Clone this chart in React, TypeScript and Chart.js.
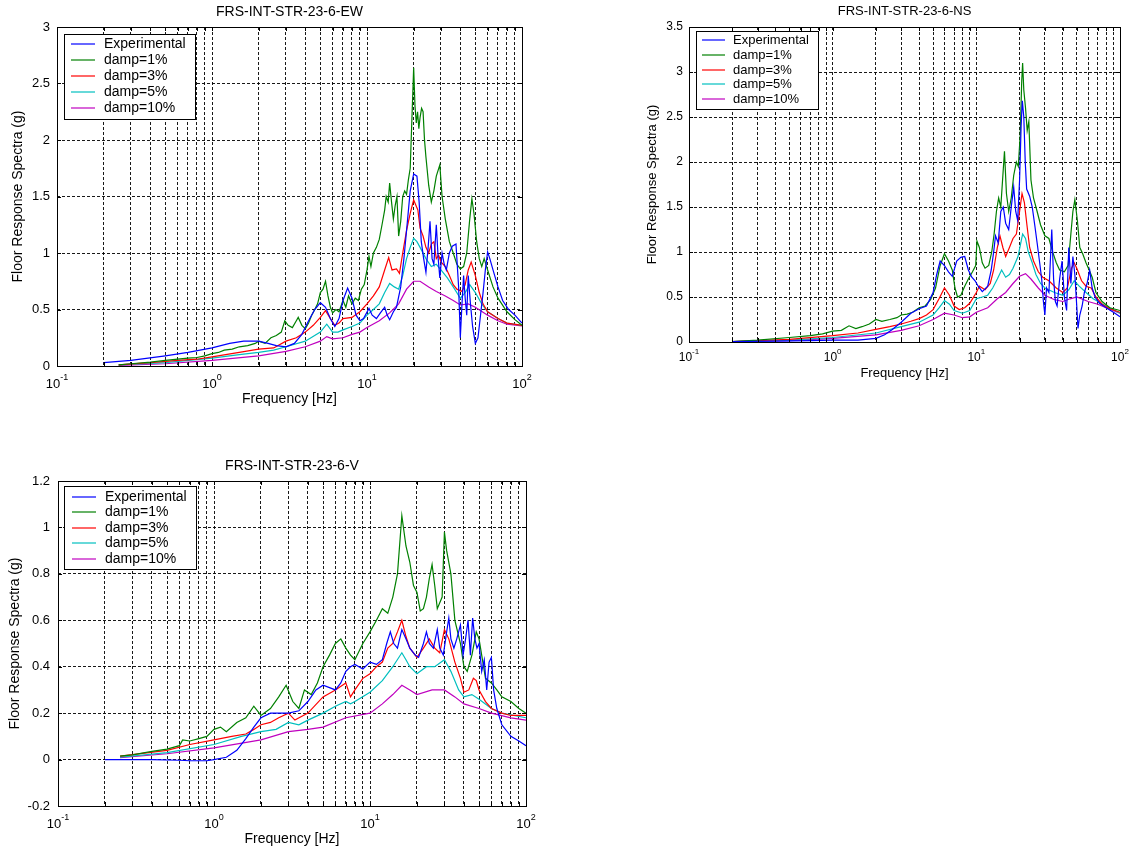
import React, { useEffect, useRef } from 'react';
import { Chart, registerables } from 'chart.js';
Chart.register(...registerables);

type Pt = [number, number];

const seriesLabels = ['Experimental', 'damp=1%', 'damp=3%', 'damp=5%', 'damp=10%'];
const seriesColors = ['#0000ff', '#008000', '#ff0000', '#00bfbf', '#bf00bf'];
const xGridTicks = [0.1, 0.2, 0.3, 0.4, 0.5, 0.6, 0.7, 0.8, 0.9, 1, 2, 3, 4, 5, 6, 7, 8, 9, 10, 20, 30, 40, 50, 60, 70, 80, 90, 100];
const xMajorTicks = [0.1, 1, 10, 100];
const xMajorExponents = ['-1', '0', '1', '2'];

// ---------- FRS-INT-STR-23-6-EW ----------
const ewExperimental: Pt[] = [[0.2,0.03],[0.3,0.05],[0.5,0.09],[0.7,0.12],[1.0,0.16],[1.3,0.2],[1.6,0.22],[2.0,0.22],[2.3,0.2],[2.6,0.18],[3.0,0.17],[3.4,0.2],[3.8,0.28],[4.2,0.4],[4.6,0.5],[5.0,0.56],[5.4,0.52],[5.8,0.42],[6.2,0.35],[6.6,0.42],[7.0,0.58],[7.5,0.69],[8.0,0.6],[8.5,0.45],[9.0,0.4],[9.5,0.42],[10.3,0.51],[10.8,0.45],[11.5,0.42],[12.2,0.47],[13.0,0.52],[13.5,0.45],[14.0,0.41],[14.8,0.48],[15.5,0.52],[16.5,0.7],[17.3,0.95],[18.0,1.2],[19.0,1.55],[20.0,1.7],[21.0,1.68],[21.7,1.45],[22.4,1.1],[23.2,0.95],[24.0,0.83],[24.8,1.05],[25.5,1.28],[26.3,0.95],[27.0,0.9],[28.0,1.25],[28.8,0.95],[29.5,0.78],[30.5,1.0],[31.5,0.9],[32.5,0.85],[34.0,1.0],[35.5,1.06],[37.5,1.08],[39.0,0.7],[40.0,0.25],[41.0,0.55],[42.0,0.8],[43.0,0.6],[44.0,0.45],[45.0,0.8],[46.5,0.55],[48.0,0.35],[50.0,0.2],[52.0,0.25],[54.0,0.45],[56.0,0.64],[58.0,0.85],[60.0,1.01],[62.0,0.95],[65.0,0.85],[70.0,0.7],[75.0,0.58],[82.0,0.5],[90.0,0.45],[100.0,0.38]];
const ewDamp1: Pt[] = [[0.25,0.01],[0.3,0.02],[0.4,0.035],[0.5,0.05],[0.6,0.06],[0.7,0.07],[0.8,0.075],[0.9,0.09],[1.0,0.11],[1.1,0.12],[1.2,0.14],[1.35,0.15],[1.5,0.17],[1.7,0.18],[1.9,0.2],[2.0,0.22],[2.2,0.2],[2.4,0.25],[2.6,0.27],[2.8,0.3],[2.95,0.4],[3.1,0.36],[3.3,0.34],[3.5,0.4],[3.6,0.43],[3.8,0.36],[4.0,0.33],[4.2,0.38],[4.4,0.45],[4.6,0.5],[4.8,0.55],[5.0,0.65],[5.2,0.68],[5.4,0.75],[5.6,0.62],[5.8,0.52],[6.0,0.47],[6.3,0.5],[6.6,0.48],[7.0,0.58],[7.3,0.52],[7.6,0.62],[8.0,0.55],[8.4,0.6],[8.8,0.58],[9.2,0.68],[9.6,0.72],[10.0,0.85],[10.3,0.97],[10.6,0.88],[11.0,1.0],[11.5,1.05],[12.0,1.12],[12.5,1.25],[13.0,1.38],[13.3,1.5],[13.7,1.45],[14.0,1.62],[14.4,1.45],[14.8,1.3],[15.2,1.42],[15.6,1.5],[16.0,1.15],[16.5,1.28],[17.0,1.5],[17.5,1.55],[18.0,1.52],[18.5,1.65],[19.0,1.75],[19.5,2.2],[20.0,2.64],[20.4,2.3],[20.8,2.15],[21.2,2.25],[21.6,2.1],[22.0,2.2],[22.5,2.28],[23.0,2.25],[23.5,2.0],[24.0,1.85],[25.0,1.6],[26.0,1.45],[27.0,1.55],[28.0,1.68],[29.5,1.78],[30.5,1.5],[32.0,1.3],[34.0,1.1],[36.0,1.0],[38.0,0.9],[40.0,0.86],[42.0,0.88],[44.0,1.0],[46.0,1.3],[47.5,1.48],[49.0,1.35],[51.0,1.1],[53.0,0.95],[55.0,0.88],[57.0,0.95],[60.0,0.85],[65.0,0.7],[70.0,0.6],[80.0,0.48],[90.0,0.41],[100.0,0.36]];
const ewDamp3: Pt[] = [[0.25,0.01],[0.4,0.03],[0.6,0.05],[0.8,0.06],[1.0,0.08],[1.5,0.12],[2.0,0.15],[2.5,0.16],[3.0,0.22],[3.5,0.25],[4.0,0.3],[4.5,0.36],[5.0,0.43],[5.4,0.49],[5.8,0.42],[6.2,0.36],[6.6,0.38],[7.0,0.42],[8.0,0.43],[9.0,0.48],[10.0,0.55],[11.0,0.62],[12.0,0.7],[13.0,0.85],[13.8,0.96],[14.5,0.85],[15.5,0.86],[16.2,0.82],[17.0,1.0],[18.0,1.2],[19.0,1.35],[20.0,1.47],[20.7,1.42],[21.3,1.38],[22.0,1.22],[23.0,1.15],[24.0,1.05],[25.0,1.0],[26.0,1.08],[27.0,1.1],[28.0,0.95],[29.0,0.98],[30.0,0.92],[32.0,0.88],[34.0,0.8],[36.0,0.72],[38.0,0.68],[41.0,0.66],[43.0,0.72],[45.0,0.85],[47.0,0.92],[50.0,0.8],[53.0,0.65],[56.0,0.55],[60.0,0.48],[70.0,0.42],[80.0,0.38],[100.0,0.36]];
const ewDamp5: Pt[] = [[0.25,0.01],[0.5,0.03],[1.0,0.07],[1.5,0.1],[2.0,0.12],[2.5,0.14],[3.0,0.17],[4.0,0.22],[5.0,0.3],[5.5,0.37],[6.0,0.3],[6.5,0.3],[7.0,0.32],[8.0,0.35],[9.0,0.38],[10.0,0.45],[11.0,0.5],[12.0,0.55],[13.0,0.65],[14.0,0.73],[15.0,0.7],[16.0,0.68],[17.0,0.8],[18.0,0.95],[19.0,1.05],[20.0,1.13],[21.0,1.1],[22.0,1.05],[24.0,0.95],[26.0,0.88],[28.0,0.9],[30.0,0.85],[33.0,0.78],[36.0,0.7],[40.0,0.6],[43.0,0.65],[46.0,0.72],[50.0,0.65],[55.0,0.55],[60.0,0.48],[70.0,0.42],[80.0,0.38],[100.0,0.36]];
const ewDamp10: Pt[] = [[0.25,0.005],[0.5,0.02],[1.0,0.05],[2.0,0.09],[3.0,0.13],[4.0,0.17],[5.0,0.22],[5.5,0.26],[6.0,0.24],[7.0,0.25],[8.0,0.28],[9.0,0.3],[10.0,0.34],[12.0,0.4],[14.0,0.47],[16.0,0.55],[18.0,0.68],[20.0,0.75],[22.0,0.75],[25.0,0.7],[28.0,0.66],[32.0,0.62],[36.0,0.58],[40.0,0.54],[45.0,0.55],[50.0,0.52],[60.0,0.45],[70.0,0.4],[80.0,0.37],[100.0,0.355]];

// ---------- FRS-INT-STR-23-6-NS ----------
const nsExperimental: Pt[] = [[0.2,0.005],[0.4,0.01],[0.7,0.015],[1.0,0.02],[1.5,0.02],[2.0,0.04],[2.3,0.08],[2.6,0.14],[3.0,0.22],[3.5,0.32],[4.0,0.37],[4.5,0.4],[5.0,0.55],[5.3,0.75],[5.6,0.9],[6.0,0.85],[6.4,0.78],[6.8,0.73],[7.3,0.9],[7.8,0.94],[8.3,0.95],[8.8,0.8],[9.3,0.72],[9.8,0.68],[10.3,0.62],[11.0,0.56],[12.0,0.62],[12.7,0.8],[13.2,1.0],[13.6,1.18],[14.2,1.1],[14.8,1.45],[15.4,1.5],[16.0,1.32],[16.8,1.25],[17.5,1.5],[18.2,1.72],[18.8,1.45],[19.4,1.35],[20.0,1.8],[20.5,2.4],[20.9,2.68],[21.4,2.5],[21.9,2.0],[22.4,1.7],[23.5,1.62],[24.5,1.5],[25.5,1.3],[26.5,1.1],[27.5,0.9],[28.5,0.7],[29.3,0.45],[30.0,0.3],[30.8,0.6],[32.0,0.55],[33.5,1.25],[34.5,0.7],[35.5,0.45],[36.5,0.4],[38.0,0.7],[39.5,0.9],[41.0,0.5],[42.5,0.35],[44.0,1.05],[45.5,0.65],[47.0,0.95],[48.5,0.75],[50.0,0.4],[51.0,0.15],[52.5,0.3],[54.5,0.4],[56.5,0.55],[59.0,0.65],[61.5,0.8],[64.0,0.6],[67.0,0.5],[72.0,0.43],[80.0,0.38],[90.0,0.33],[100.0,0.28]];
const nsDamp1: Pt[] = [[0.2,0.005],[0.3,0.02],[0.5,0.05],[0.7,0.07],[0.85,0.09],[1.0,0.12],[1.15,0.13],[1.3,0.18],[1.45,0.15],[1.6,0.17],[1.8,0.2],[2.0,0.25],[2.2,0.23],[2.5,0.25],[2.8,0.27],[3.0,0.3],[3.3,0.31],[3.6,0.33],[4.0,0.38],[4.4,0.4],[4.8,0.47],[5.2,0.6],[5.6,0.85],[6.0,0.98],[6.4,0.9],[6.8,0.8],[7.1,0.6],[7.4,0.5],[7.8,0.52],[8.3,0.62],[8.8,0.7],[9.4,0.78],[9.9,0.85],[10.1,1.12],[10.5,1.05],[11.0,0.88],[11.5,0.82],[12.2,0.85],[12.8,1.0],[13.3,1.2],[13.8,1.45],[14.3,1.6],[14.8,1.5],[15.3,1.85],[15.7,2.12],[16.2,1.65],[16.8,1.45],[17.5,1.6],[18.2,1.85],[19.0,2.0],[19.6,1.95],[20.2,2.3],[20.7,2.9],[21.0,3.1],[21.4,2.8],[22.0,2.6],[22.6,2.35],[23.2,2.45],[24.0,1.8],[25.0,1.6],[26.5,1.45],[28.0,1.3],[30.0,1.18],[32.0,1.15],[34.0,1.0],[36.0,0.88],[38.0,0.8],[41.0,0.78],[43.5,0.85],[45.5,1.2],[47.0,1.45],[48.5,1.58],[50.5,1.35],[52.5,1.05],[55.0,0.98],[58.0,0.88],[61.0,0.8],[64.0,0.72],[68.0,0.55],[75.0,0.45],[85.0,0.38],[100.0,0.35]];
const nsDamp3: Pt[] = [[0.2,0.005],[0.5,0.03],[1.0,0.07],[1.5,0.1],[2.0,0.14],[2.5,0.17],[3.0,0.2],[3.5,0.23],[4.0,0.26],[4.5,0.3],[5.0,0.36],[5.5,0.48],[6.0,0.6],[6.5,0.52],[7.0,0.4],[7.6,0.36],[8.3,0.38],[9.0,0.43],[10.0,0.55],[10.5,0.62],[11.5,0.58],[12.5,0.65],[13.2,0.8],[14.0,1.05],[14.6,1.18],[15.3,1.05],[16.0,0.95],[17.0,1.05],[18.0,1.15],[19.0,1.2],[20.0,1.45],[20.8,1.65],[21.6,1.55],[22.5,1.3],[23.5,1.05],[25.0,0.9],[27.0,0.78],[29.0,0.72],[32.0,0.68],[36.0,0.6],[40.0,0.55],[43.0,0.6],[46.0,0.82],[48.0,0.88],[50.0,0.82],[54.0,0.68],[58.0,0.62],[63.0,0.6],[68.0,0.5],[75.0,0.42],[85.0,0.37],[100.0,0.33]];
const nsDamp5: Pt[] = [[0.2,0.005],[0.5,0.02],[1.0,0.05],[2.0,0.1],[3.0,0.17],[4.0,0.22],[5.0,0.3],[5.5,0.38],[6.0,0.46],[6.5,0.42],[7.0,0.35],[8.0,0.32],[9.0,0.35],[10.0,0.48],[11.0,0.5],[12.0,0.52],[13.0,0.6],[14.0,0.7],[15.0,0.8],[16.0,0.72],[17.0,0.75],[18.0,0.82],[19.5,0.95],[21.0,1.2],[22.0,1.15],[23.0,1.0],[24.5,0.88],[26.0,0.75],[28.0,0.65],[30.0,0.6],[35.0,0.55],[40.0,0.52],[44.0,0.58],[48.0,0.68],[52.0,0.62],[58.0,0.55],[65.0,0.48],[80.0,0.4],[100.0,0.32]];
const nsDamp10: Pt[] = [[0.2,0.005],[0.5,0.015],[1.0,0.04],[2.0,0.08],[3.0,0.13],[4.0,0.18],[5.0,0.25],[6.0,0.32],[7.0,0.3],[8.0,0.27],[9.0,0.28],[10.0,0.33],[12.0,0.38],[14.0,0.48],[16.0,0.55],[18.0,0.65],[20.0,0.73],[22.0,0.76],[24.0,0.7],[27.0,0.6],[30.0,0.52],[35.0,0.47],[40.0,0.45],[45.0,0.48],[50.0,0.5],[60.0,0.45],[70.0,0.42],[80.0,0.38],[100.0,0.32]];

// ---------- FRS-INT-STR-23-6-V ----------
const vExperimental: Pt[] = [[0.2,0.0],[0.4,0.0],[0.6,-0.003],[0.7,-0.005],[0.9,-0.005],[1.0,0.0],[1.2,0.01],[1.4,0.04],[1.6,0.09],[1.8,0.14],[2.0,0.18],[2.3,0.2],[2.7,0.2],[3.0,0.2],[3.5,0.21],[4.0,0.25],[4.5,0.3],[5.0,0.32],[5.5,0.31],[6.0,0.3],[6.5,0.33],[7.0,0.38],[7.5,0.4],[8.0,0.41],[9.0,0.39],[10.0,0.42],[11.0,0.41],[12.0,0.43],[12.8,0.5],[13.5,0.55],[14.2,0.5],[15.0,0.48],[16.0,0.56],[17.0,0.52],[18.0,0.48],[19.5,0.45],[20.5,0.44],[22.0,0.5],[23.0,0.55],[24.0,0.5],[25.5,0.48],[27.0,0.56],[28.0,0.48],[29.5,0.45],[31.0,0.55],[32.0,0.61],[33.0,0.52],[34.5,0.48],[36.0,0.52],[38.0,0.58],[39.5,0.45],[41.0,0.52],[42.5,0.6],[44.0,0.45],[45.5,0.61],[47.0,0.52],[48.5,0.48],[50.0,0.5],[52.0,0.38],[54.0,0.43],[56.0,0.3],[58.0,0.42],[60.0,0.44],[62.0,0.3],[65.0,0.22],[70.0,0.15],[80.0,0.1],[90.0,0.08],[100.0,0.06]];
const vDamp1: Pt[] = [[0.25,0.015],[0.3,0.02],[0.4,0.035],[0.5,0.045],[0.6,0.06],[0.63,0.085],[0.7,0.08],[0.8,0.09],[0.9,0.1],[1.0,0.13],[1.1,0.14],[1.2,0.12],[1.4,0.16],[1.6,0.18],[1.8,0.23],[2.0,0.19],[2.3,0.22],[2.6,0.27],[2.9,0.32],[3.2,0.25],[3.5,0.22],[3.8,0.3],[4.2,0.28],[4.6,0.33],[5.0,0.4],[5.5,0.45],[6.0,0.5],[6.5,0.52],[7.0,0.48],[7.5,0.45],[8.0,0.43],[9.0,0.5],[10.0,0.55],[11.0,0.6],[12.0,0.65],[13.0,0.63],[14.0,0.7],[15.0,0.8],[16.0,1.05],[17.0,0.92],[18.0,0.85],[19.0,0.75],[20.0,0.72],[21.0,0.64],[22.0,0.65],[23.0,0.7],[24.0,0.78],[25.0,0.84],[26.0,0.75],[27.0,0.65],[29.0,0.7],[30.0,0.98],[31.0,0.9],[33.0,0.8],[35.0,0.6],[38.0,0.5],[40.0,0.4],[42.0,0.38],[45.0,0.45],[48.0,0.55],[50.0,0.52],[55.0,0.35],[60.0,0.33],[65.0,0.3],[70.0,0.27],[80.0,0.25],[90.0,0.22],[100.0,0.2]];
const vDamp3: Pt[] = [[0.25,0.015],[0.5,0.04],[0.7,0.065],[1.0,0.085],[1.3,0.1],[1.6,0.11],[1.8,0.13],[2.0,0.15],[2.3,0.16],[2.6,0.18],[3.0,0.2],[3.3,0.17],[4.0,0.2],[5.0,0.27],[6.0,0.3],[7.0,0.33],[7.5,0.27],[8.0,0.3],[9.0,0.35],[10.0,0.37],[11.0,0.4],[12.0,0.42],[13.0,0.48],[14.0,0.5],[15.0,0.55],[16.0,0.6],[17.0,0.53],[18.0,0.48],[20.0,0.44],[22.0,0.48],[24.0,0.52],[26.0,0.48],[28.0,0.46],[30.0,0.56],[32.0,0.52],[35.0,0.42],[38.0,0.35],[40.0,0.29],[43.0,0.3],[46.0,0.35],[48.0,0.34],[50.0,0.3],[55.0,0.25],[60.0,0.22],[70.0,0.2],[80.0,0.19],[100.0,0.19]];
const vDamp5: Pt[] = [[0.25,0.01],[0.5,0.03],[1.0,0.065],[1.5,0.1],[2.0,0.12],[2.5,0.13],[3.0,0.16],[3.5,0.15],[4.0,0.17],[5.0,0.2],[6.0,0.23],[7.0,0.25],[7.5,0.24],[8.0,0.25],[10.0,0.29],[12.0,0.34],[14.0,0.4],[16.0,0.46],[17.0,0.43],[18.0,0.4],[20.0,0.37],[23.0,0.4],[26.0,0.4],[30.0,0.43],[33.0,0.38],[37.0,0.3],[40.0,0.27],[45.0,0.28],[50.0,0.26],[60.0,0.22],[70.0,0.2],[100.0,0.18]];
const vDamp10: Pt[] = [[0.25,0.008],[0.5,0.025],[1.0,0.05],[2.0,0.085],[3.0,0.12],[4.0,0.13],[5.0,0.14],[7.0,0.18],[10.0,0.2],[12.0,0.24],[14.0,0.28],[16.0,0.32],[18.0,0.3],[20.0,0.28],[25.0,0.3],[30.0,0.3],[35.0,0.27],[40.0,0.24],[50.0,0.22],[60.0,0.2],[80.0,0.18],[100.0,0.17]];

const FONT = '"Liberation Sans", Arial, Helvetica, sans-serif';

interface Panel {
  title: string;
  series: Pt[][];
  yMin: number; yMax: number; yStep: number;
  canvas: { left: number; top: number; width: number; height: number };
  area: { left: number; top: number; right: number; bottom: number };
  font: number; tickFont: number;
  titleDy: number; xTickDy: number; xTitleDy: number; yTitleDx: number; yTickPad: number;
  legend: { dx: number; dy: number; w: number; h: number; row0: number; rowGap: number; line0: number; line1: number; text: number };
}

const panels: Panel[] = [
  {
    title: 'FRS-INT-STR-23-6-EW',
    series: [ewExperimental, ewDamp1, ewDamp3, ewDamp5, ewDamp10],
    yMin: 0, yMax: 3, yStep: 0.5,
    canvas: { left: 0, top: 0, width: 560, height: 420 },
    area: { left: 57, top: 27, right: 522, bottom: 366 },
    font: 14, tickFont: 13, titleDy: -15, xTickDy: 18, xTitleDy: 33, yTitleDx: -39, yTickPad: 7,
    legend: { dx: 7, dy: 7, w: 131, h: 85, row0: 10, rowGap: 16.1, line0: 7, line1: 31, text: 40 },
  },
  {
    title: 'FRS-INT-STR-23-6-NS',
    series: [nsExperimental, nsDamp1, nsDamp3, nsDamp5, nsDamp10],
    yMin: 0, yMax: 3.5, yStep: 0.5,
    canvas: { left: 600, top: 0, width: 531, height: 400 },
    area: { left: 689, top: 27, right: 1120, bottom: 342 },
    font: 13, tickFont: 12, titleDy: -16, xTickDy: 16, xTitleDy: 31, yTitleDx: -37, yTickPad: 6,
    legend: { dx: 7, dy: 4, w: 122, h: 78, row0: 9, rowGap: 14.8, line0: 6, line1: 29, text: 37 },
  },
  {
    title: 'FRS-INT-STR-23-6-V',
    series: [vExperimental, vDamp1, vDamp3, vDamp5, vDamp10],
    yMin: -0.2, yMax: 1.2, yStep: 0.2,
    canvas: { left: 0, top: 450, width: 560, height: 401 },
    area: { left: 58, top: 481, right: 526, bottom: 806 },
    font: 14, tickFont: 13, titleDy: -15, xTickDy: 18, xTitleDy: 33, yTitleDx: -43, yTickPad: 8,
    legend: { dx: 6, dy: 5, w: 132, h: 83, row0: 10.5, rowGap: 15.5, line0: 8, line1: 32, text: 41 },
  },
];

function formatY(v: number): string {
  if (Math.abs(v) < 1e-9) return '0';
  return String(Number(v.toFixed(2)));
}

function makeFramePlugin(p: Panel) {
  return {
    id: 'matlabFrame',
    afterDraw(chart: any) {
      const { ctx, chartArea: a, scales } = chart;
      const xs = scales.x, ys = scales.y;
      const L = Math.round(a.left), T = Math.round(a.top), R = Math.round(a.right), B = Math.round(a.bottom);
      ctx.save();
      ctx.setLineDash([]);
      ctx.strokeStyle = '#000';
      ctx.lineWidth = 1;
      // inward tick marks
      ctx.beginPath();
      xGridTicks.forEach((v) => {
        const px = Math.round(xs.getPixelForValue(v)) + 0.5;
        ctx.moveTo(px, B); ctx.lineTo(px, B - 4);
        ctx.moveTo(px, T); ctx.lineTo(px, T + 4);
      });
      ys.ticks.forEach((t: any) => {
        const py = Math.round(ys.getPixelForValue(t.value)) + 0.5;
        ctx.moveTo(L, py); ctx.lineTo(L + 4, py);
        ctx.moveTo(R, py); ctx.lineTo(R - 4, py);
      });
      ctx.stroke();
      // box
      ctx.strokeRect(L + 0.5, T + 0.5, R - L, B - T);

      const f = p.font;
      const tf = p.tickFont;
      ctx.fillStyle = '#000';
      // x tick labels 10^n
      xMajorTicks.forEach((v, i) => {
        const px = xs.getPixelForValue(v);
        const base = '10';
        const exp = xMajorExponents[i];
        ctx.font = `${tf}px ${FONT}`;
        const wb = ctx.measureText(base).width;
        const ef = Math.round(tf * 0.7);
        ctx.font = `${ef}px ${FONT}`;
        const we = ctx.measureText(exp).width;
        const x0 = px - (wb + we) / 2;
        const y0 = B + p.xTickDy;
        ctx.textBaseline = 'middle';
        ctx.textAlign = 'left';
        ctx.font = `${tf}px ${FONT}`;
        ctx.fillText(base, x0, y0);
        ctx.font = `${ef}px ${FONT}`;
        ctx.fillText(exp, x0 + wb, y0 - tf * 0.5);
      });
      // title
      ctx.font = `${f}px ${FONT}`;
      ctx.textAlign = 'center';
      ctx.textBaseline = 'middle';
      ctx.fillText(p.title, (L + R) / 2, T + p.titleDy);
      // x axis title
      ctx.fillText('Frequency [Hz]', (L + R) / 2, B + p.xTitleDy);
      // y axis title
      ctx.save();
      ctx.translate(L + p.yTitleDx, (T + B) / 2);
      ctx.rotate(-Math.PI / 2);
      ctx.fillText('Floor Response Spectra (g)', 0, 0);
      ctx.restore();
      // legend
      const lg = p.legend;
      const lx = L + lg.dx, ly = T + lg.dy;
      ctx.fillStyle = '#fff';
      ctx.fillRect(lx, ly, lg.w, lg.h);
      ctx.strokeStyle = '#000';
      ctx.strokeRect(lx + 0.5, ly + 0.5, lg.w, lg.h);
      chart.data.datasets.forEach((ds: any, i: number) => {
        const ry = Math.round(ly + lg.row0 + i * lg.rowGap);
        ctx.strokeStyle = seriesColors[i];
        ctx.globalAlpha = 0.75;
        ctx.lineWidth = 1.6;
        ctx.beginPath();
        ctx.moveTo(lx + lg.line0, ry);
        ctx.lineTo(lx + lg.line1, ry);
        ctx.stroke();
        ctx.globalAlpha = 1;
        ctx.lineWidth = 1;
        ctx.fillStyle = '#000';
        ctx.font = `${f}px ${FONT}`;
        ctx.textAlign = 'left';
        ctx.textBaseline = 'middle';
        ctx.fillText(ds.label, lx + lg.text, ry);
      });
      ctx.restore();
    },
  };
}

function PanelChart({ panel }: { panel: Panel }) {
  const ref = useRef<HTMLCanvasElement>(null);
  const c = panel.canvas;
  const a = panel.area;
  useEffect(() => {
    if (!ref.current) return;
    const gridCommon = { color: 'rgba(0,0,0,0.9)', lineWidth: 1, drawTicks: false };
    const chart = new Chart(ref.current, {
      type: 'line',
      data: {
        datasets: panel.series.map((s, i) => ({
          label: seriesLabels[i],
          data: s.map(([x, y]) => ({ x, y })),
          borderColor: seriesColors[i],
          backgroundColor: seriesColors[i],
          borderWidth: 1.2,
          pointRadius: 0,
          tension: 0,
          fill: false,
        })),
      },
      options: {
        responsive: false,
        maintainAspectRatio: false,
        animation: false,
        layout: { padding: { left: 0, top: a.top - c.top, right: c.left + c.width - a.right, bottom: 0 } },
        plugins: { legend: { display: false }, tooltip: { enabled: false }, title: { display: false } },
        scales: {
          x: {
            type: 'logarithmic',
            min: 0.1,
            max: 100,
            afterBuildTicks: (s: any) => { s.ticks = xGridTicks.map((v) => ({ value: v })); },
            afterFit: (s: any) => { s.height = c.top + c.height - a.bottom; },
            ticks: { display: false },
            grid: gridCommon,
            border: { display: false, dash: [3, 2] },
          },
          y: {
            type: 'linear',
            min: panel.yMin,
            max: panel.yMax,
            afterFit: (s: any) => { s.width = a.left - c.left; },
            ticks: {
              stepSize: panel.yStep,
              padding: panel.yTickPad,
              color: '#000',
              font: { family: FONT, size: panel.tickFont },
              callback: (v: any) => formatY(Number(v)),
            },
            grid: gridCommon,
            border: { display: false, dash: [3, 2] },
          },
        },
      } as any,
      plugins: [makeFramePlugin(panel)],
    });
    return () => chart.destroy();
  }, [panel]);
  return (
    <canvas
      ref={ref}
      width={c.width}
      height={c.height}
      style={{ position: 'absolute', left: c.left, top: c.top, width: c.width, height: c.height }}
    />
  );
}

export default function App() {
  return (
    <div style={{ position: 'absolute', left: 0, top: 0, width: 1131, height: 851, background: '#fff' }}>
      {panels.map((p) => (
        <PanelChart key={p.title} panel={p} />
      ))}
    </div>
  );
}
